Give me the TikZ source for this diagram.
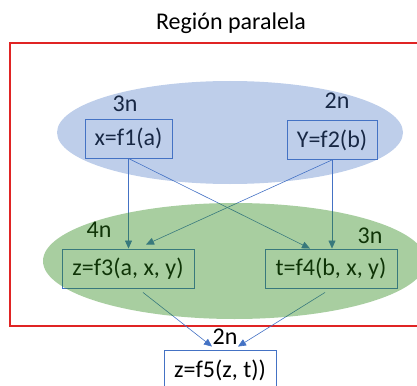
\documentclass[tikz,border=0pt]{standalone}
\usepackage{fontspec}
\setmainfont{Carlito}
\usetikzlibrary{calc,arrows.meta}
\definecolor{officeblue}{HTML}{4472C4}
\definecolor{regiongreen}{RGB}{38,132,18}
\definecolor{regionred}{HTML}{E02424}

\begin{document}
\begin{tikzpicture}[x=1pt,y=-1pt,
  fn/.style={draw=officeblue, line width=0.9pt, inner sep=0pt, minimum height=39pt, font=\fontsize{24}{28}\selectfont},
  work/.style={font=\fontsize{24}{28}\selectfont, inner sep=0pt, anchor=base},
  flow/.style={officeblue, line width=0.6pt, -{Triangle[length=8pt,width=7pt]}}]
\useasboundingbox (0,0) rectangle (417,385);

\node[work] (title) at (231,30) {Región paralela};
\draw[regionred, line width=1.3pt] (10,43) rectangle (440,326);

\node[fn, minimum width=87pt] (x1) at (128.5,138.5) {x=f1(a)};
\node[fn, minimum width=90pt] (y2) at (332,140) {Y=f2(b)};
\node[fn, minimum width=132pt] (z3) at (128,268.5) {z=f3(a, x, y)};
\node[fn, minimum width=132pt] (t4) at (331,268.5) {t=f4(b, x, y)};
\node[fn, minimum width=112pt, minimum height=40pt] (z5) at (220,370) {z=f5(z, t))};

\node[work] (w1) at (125,112) {3n};
\node[work] (w2) at (337,108) {2n};
\node[work] (w3) at (99,237) {4n};
\node[work] (w4) at (370,243) {3n};
\node[work] (w5) at (225,344) {2n};

\draw[flow] (x1.south) -- (x1.south |- z3.north);
\draw[flow] (x1.south) -- ($(t4.north)+(-21,0)$);
\draw[flow] (y2.south) -- (y2.south |- t4.north);
\draw[flow] (y2.south) -- ($(z3.north)+(18,-4)$);
\draw[flow] ($(z3.south)+(15,4)$) -- ($(z5.north)+(-8,-3)$);
\draw[flow] ($(t4.south)+(-6,4)$) -- ($(z5.north)+(18,-3)$);

% regions over the tasks
\fill[officeblue, fill opacity=0.35] (230,132.5) ellipse [x radius=173, y radius=51.5];
\fill[regiongreen, fill opacity=0.4] (234.5,261) ellipse [x radius=191.5, y radius=58];
\end{tikzpicture}
\end{document}
